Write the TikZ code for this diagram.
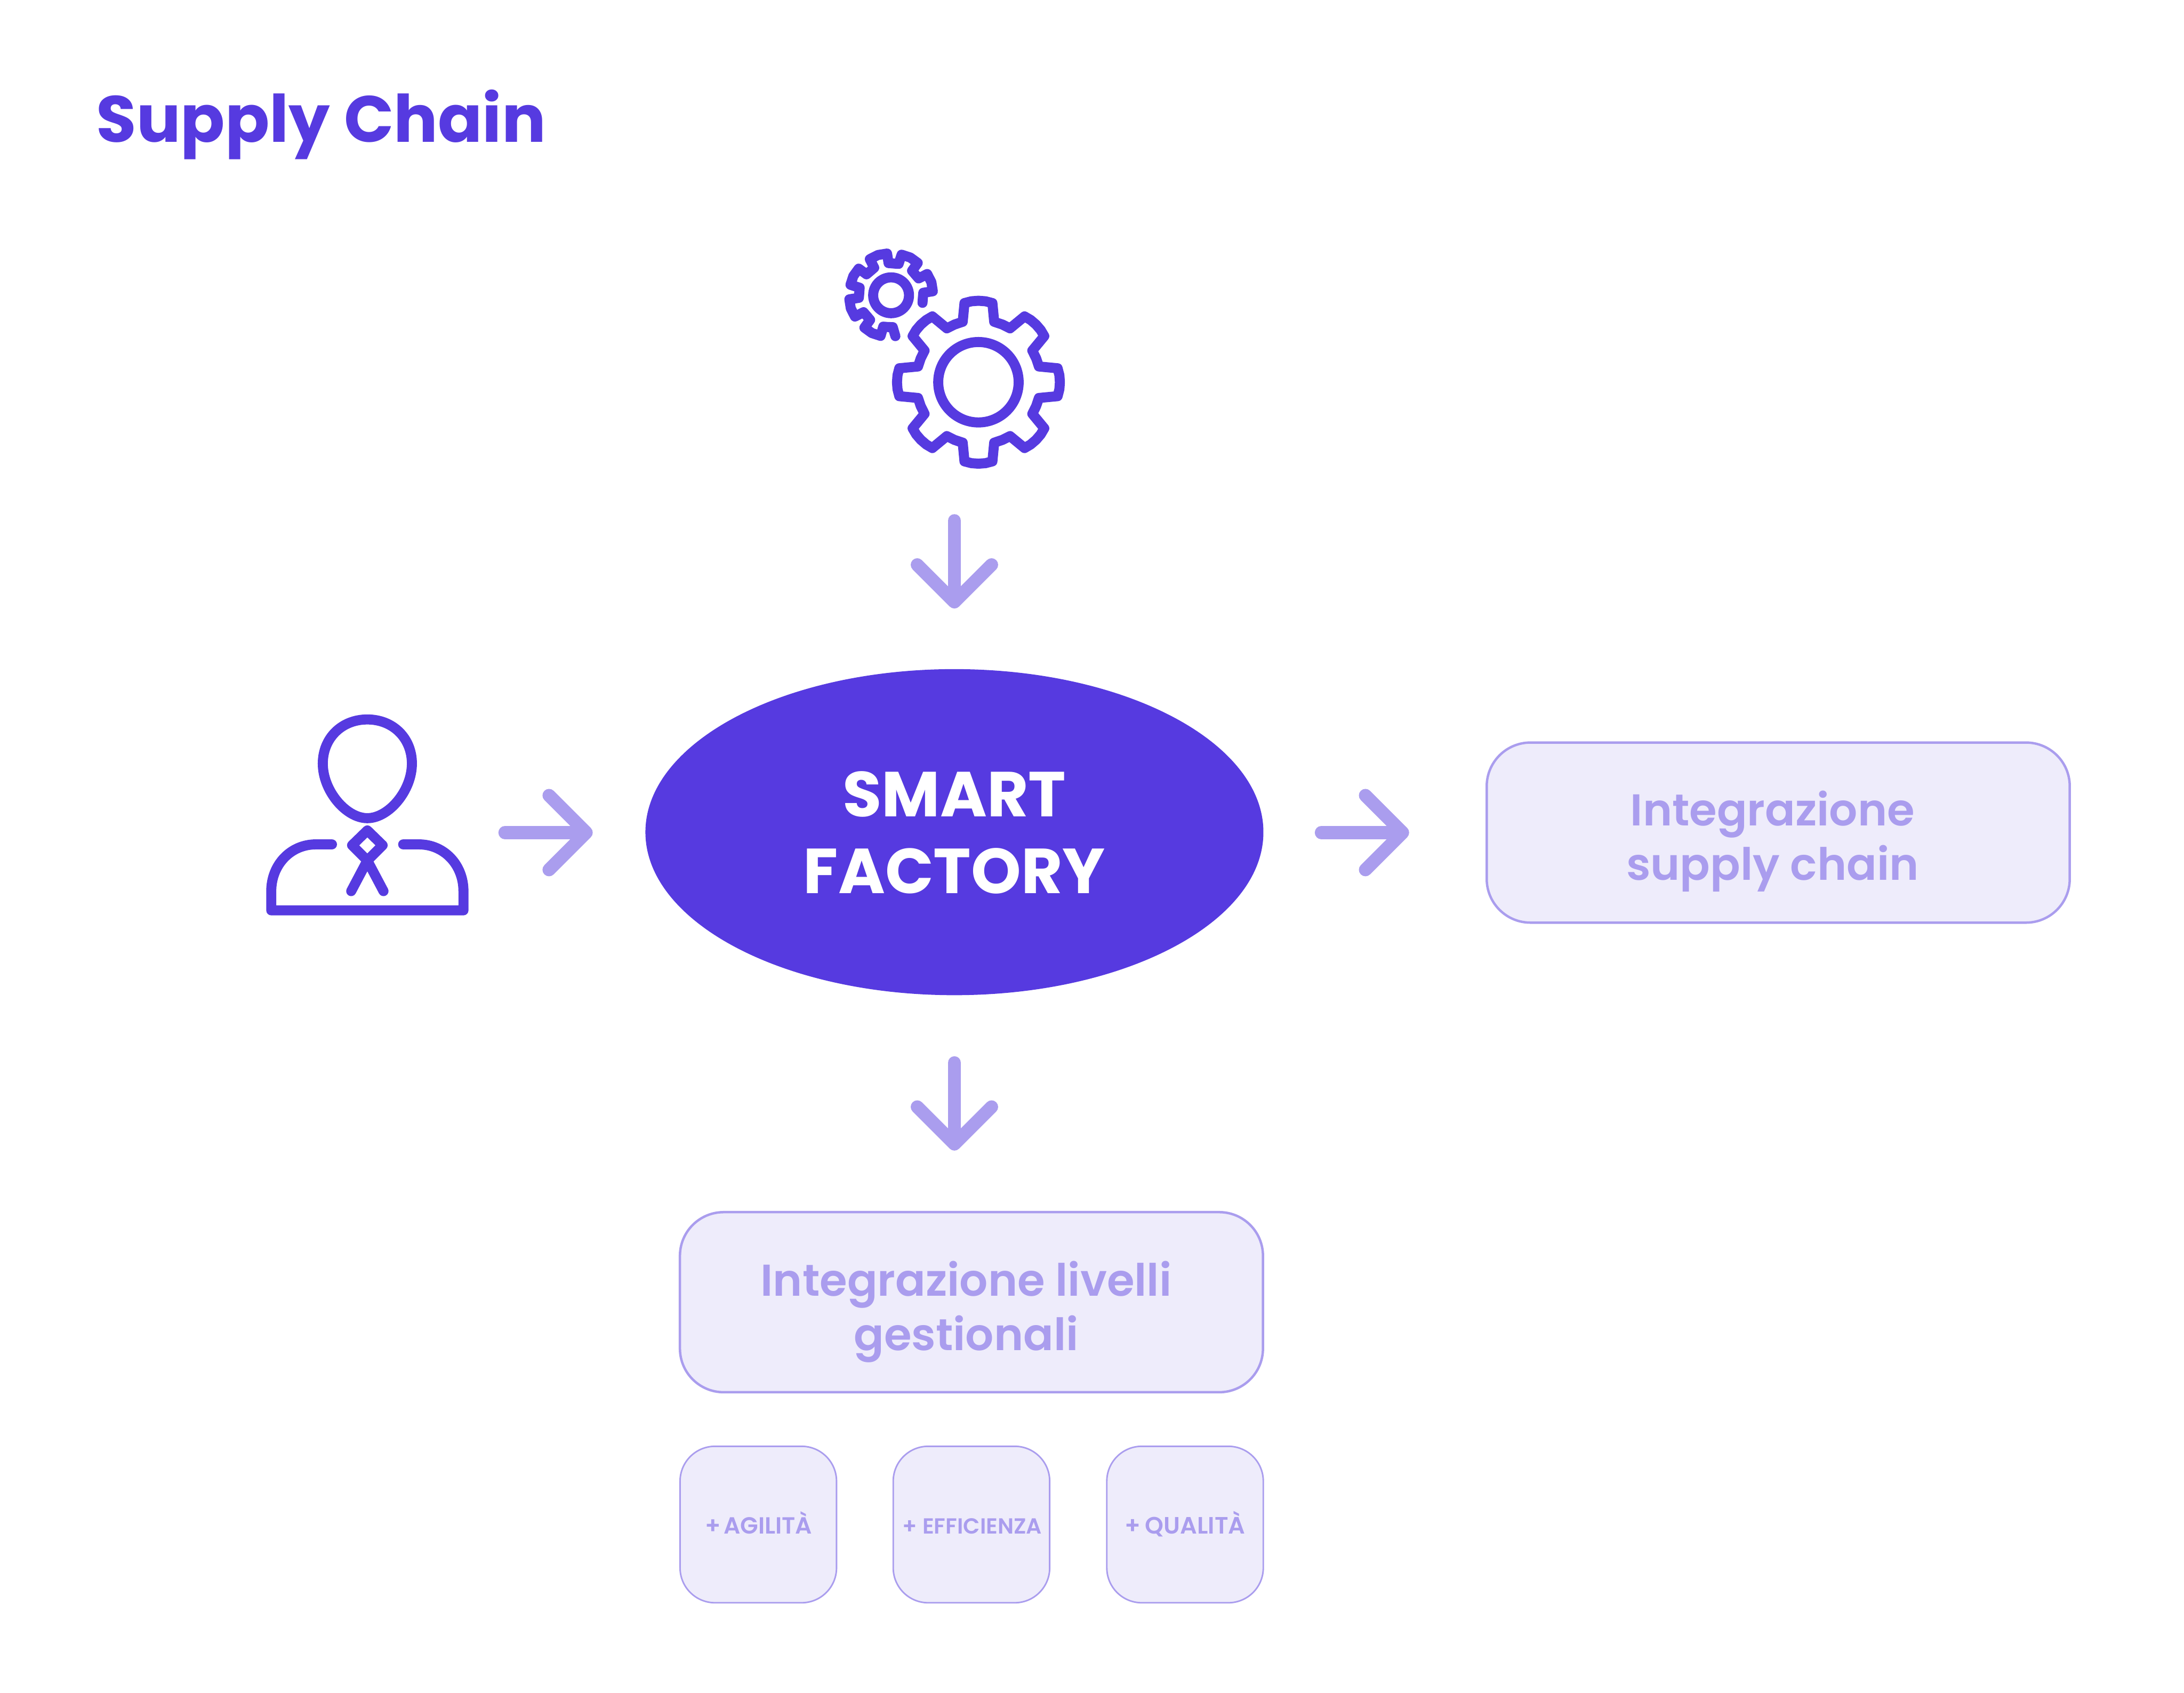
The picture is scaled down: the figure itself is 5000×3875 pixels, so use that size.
\documentclass[tikz,border=0pt]{standalone}
\usepackage{fontspec}
\usetikzlibrary{shapes.geometric,arrows.meta,calc}
\setmainfont{Poppins}
\newfontfamily\popbold{Poppins Bold}
\newfontfamily\popsemi{Poppins SemiBold}
\definecolor{ink}{HTML}{563AE0}
\definecolor{soft}{HTML}{AA9DEE}
\definecolor{pale}{HTML}{EEECFB}
\tikzset{
  x=0.01cm,y=-0.01cm,
  icon/.style={draw=ink,line width=0.23cm,line cap=round,line join=round},
  flow/.style={draw=soft,line width=0.3cm,line cap=round,
    -{Straight Barb[round,length=0.85cm,width=1.7cm,line width=0.3cm]}},
  bigbox/.style={rectangle,rounded corners=1cm,draw=soft,fill=pale,line width=0.055cm,inner sep=0pt,minimum width=13.34cm,minimum height=4.12cm},
  smallbox/.style={rectangle,rounded corners=0.8cm,draw=soft,fill=pale,line width=0.035cm,inner sep=0pt,minimum width=3.58cm,minimum height=3.58cm},
  bigtext/.style={text=soft,align=center,inner sep=0pt,font=\popsemi\fontsize{29}{35.4}\selectfont},
  smalltext/.style={text=soft,inner sep=0pt,anchor=base},
}
\begin{document}
\begin{tikzpicture}
\useasboundingbox (0,0) rectangle (5000,3875);
\fill[white] (0,0) rectangle (5000,3875);
\node[anchor=base west,inner sep=0pt,text=ink,font=\popbold\fontsize{42.6}{50}\selectfont] (title) at (220,325) {Supply Chain};

% gears
\begin{scope}[shift={(2240,875)}]
  \node[circle,draw=ink,line width=0.23cm,minimum size=1.84cm,inner sep=0pt] (biggear) at (0,0) {};
  \draw[icon] (-10:184)
    \foreach \a in {0,45,...,315} {
      -- (\a-10:184) -- (\a-5:186) -- (\a:186.5) -- (\a+5:186) -- (\a+10:184)
      -- (\a+14.6:143) -- (\a+22.5:143) -- (\a+30.4:143)
    } -- cycle;
\end{scope}
\begin{scope}[shift={(2040,676)}]
  \node[circle,draw=ink,line width=0.23cm,minimum size=0.82cm,inner sep=0pt] (smallgear) at (0,0) {};
  \draw[icon] (84:94) -- (87:73) -- (95:73) -- (104:74)
    \foreach \a in {117,162,207,252,297,342} {
      -- (\a-12.5:96) -- (\a:97) -- (\a+12.5:96) -- (\a+13.5:74) -- (\a+22.5:73) -- (\a+31.5:74)
    };
\end{scope}

% person
\draw[icon] (841,1647) .. controls (900,1647) and (943,1690) .. (943,1748)
   .. controls (943,1810) and (890,1873) .. (841,1873)
   .. controls (792,1873) and (739,1810) .. (739,1748)
   .. controls (739,1690) and (782,1647) .. (841,1647) -- cycle;
\draw[icon] (760,1933) -- (723,1933) .. controls (665,1933) and (621,1980) .. (621,2040)
   -- (621,2084) -- (1061,2084) -- (1061,2040)
   .. controls (1061,1980) and (1017,1933) .. (959,1933) -- (923,1933);
\draw[icon] (841,1901) -- (876,1935) -- (841,1970) -- (806,1935) -- cycle;
\draw[icon] (841,1970) -- (804,2040);
\draw[icon] (841,1970) -- (878,2040);

% central ellipse
\node[ellipse,fill=ink,inner sep=0pt,minimum width=14.14cm,minimum height=7.46cm] (factory) at (2185,1905) {};
\node[text=white,align=center,inner sep=0pt,font=\popbold\fontsize{41.4}{49.8}\selectfont] (factorytext) at (2185,1906) {SMART\\FACTORY};

% boxes
\node[bigbox] (chain) at (4071,1906) {};
\node[bigtext] (chaintext) at (4058,1926) {Integrazione\\supply chain};
\node[bigbox] (levels) at (2224,2981) {};
\node[bigtext] (levelstext) at (2212,3003) {Integrazione livelli\\gestionali};
\node[smallbox] (b1) at (1736,3490) {};
\node[smallbox] (b2) at (2224,3490) {};
\node[smallbox] (b3) at (2713,3490) {};
\node[smalltext,font=\popsemi\fontsize{15.2}{18}\selectfont] (t1) at (1737,3511) {+\hspace{-0.12em} AGILITÀ};
\node[smalltext,font=\popsemi\fontsize{14.2}{18}\selectfont] (t2) at (2226,3511) {+ EFFICIENZA};
\node[smalltext,font=\popsemi\fontsize{15.4}{18}\selectfont] (t3) at (2713,3511) {+\hspace{-0.05em} QUALITÀ};

% arrows
\coordinate (topS) at (2185,1192);
\coordinate (topE) at (2185,1393);
\coordinate (leftS) at (1156,1906);
\coordinate (leftE) at (1357,1906);
\coordinate (rightS) at (3025,1906);
\coordinate (rightE) at (3226,1906);
\coordinate (downS) at (2185,2433);
\coordinate (downE) at (2185,2634);
\draw[flow] (topS) -- (topE);
\draw[flow] (leftS) -- (leftE);
\draw[flow] (rightS) -- (rightE);
\draw[flow] (downS) -- (downE);
\end{tikzpicture}
\end{document}
